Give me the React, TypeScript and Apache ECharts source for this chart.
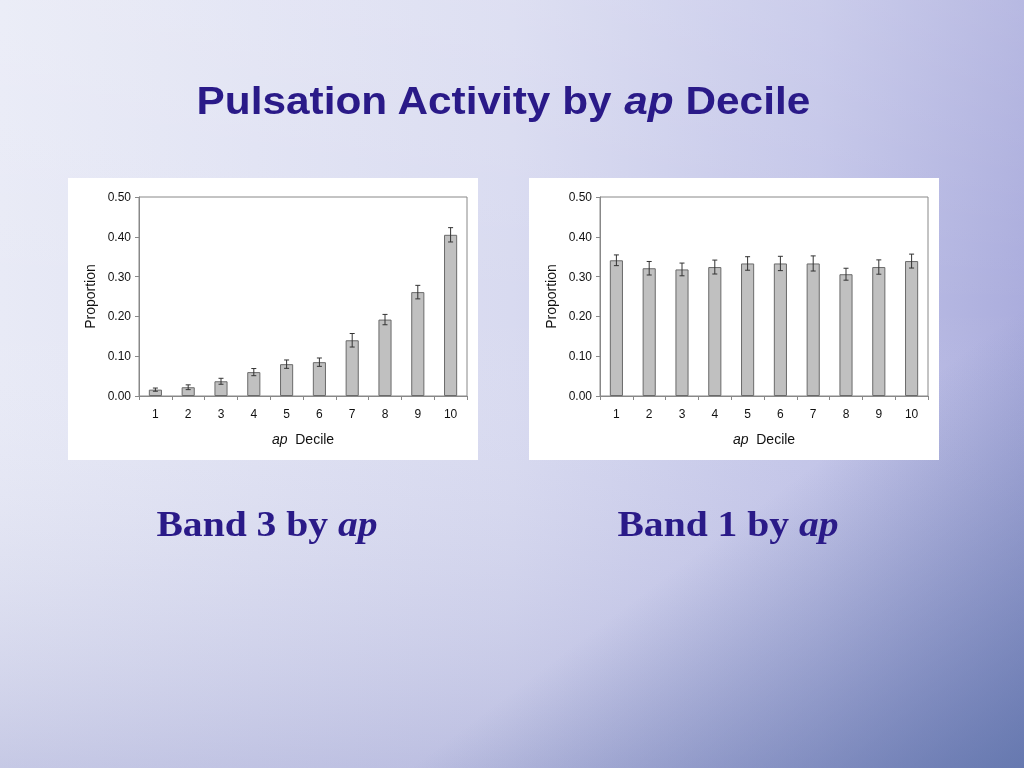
import React, { useEffect, useRef } from "react";
import * as echarts from "echarts";

const deciles = ["1", "2", "3", "4", "5", "6", "7", "8", "9", "10"];
const yTicks = [0, 0.1, 0.2, 0.3, 0.4, 0.5];

const band3Values = [0.016, 0.022, 0.037, 0.06, 0.08, 0.085, 0.14, 0.192, 0.261, 0.405];
const band3Errors = [0.004, 0.006, 0.0075, 0.009, 0.0105, 0.0105, 0.017, 0.013, 0.017, 0.018];

const band1Values = [0.341, 0.321, 0.318, 0.324, 0.333, 0.333, 0.333, 0.306, 0.324, 0.339];
const band1Errors = [0.0135, 0.017, 0.016, 0.0175, 0.017, 0.018, 0.019, 0.015, 0.018, 0.0175];

const titleText = "Pulsation Activity by {i|ap} Decile";
const subTitles = ["Band 3 by {i|ap}", "Band 1 by {i|ap}"];

const SANS = "'Liberation Sans', Arial, sans-serif";
const SERIF = "'Liberation Serif', 'Times New Roman', serif";
const INK = "#2a1a88";

function errorSeries(values: number[], errors: number[], idx: number) {
  return {
    type: "custom",
    xAxisIndex: idx,
    yAxisIndex: idx,
    z: 5,
    data: values.map((v, i) => [i, v - errors[i], v + errors[i]]),
    renderItem: (params: any, api: any) => {
      const x = api.value(0);
      const lo = api.coord([x, api.value(1)]);
      const hi = api.coord([x, api.value(2)]);
      const cap = 2.5;
      const style = { stroke: "#333333", lineWidth: 1 };
      return {
        type: "group",
        children: [
          { type: "line", shape: { x1: lo[0], y1: lo[1], x2: hi[0], y2: hi[1] }, style },
          { type: "line", shape: { x1: hi[0] - cap, y1: hi[1], x2: hi[0] + cap, y2: hi[1] }, style },
          { type: "line", shape: { x1: lo[0] - cap, y1: lo[1], x2: lo[0] + cap, y2: lo[1] }, style },
        ],
      };
    },
  };
}

function xAxis(idx: number) {
  return {
    type: "category",
    gridIndex: idx,
    data: deciles,
    boundaryGap: true,
    axisLine: { lineStyle: { color: "#888888", width: 1 } },
    axisTick: { show: true, length: 4, lineStyle: { color: "#888888" } },
    axisLabel: { color: "#111111", fontSize: 12, fontFamily: SANS, margin: 12 },
    name: "{i|ap}  Decile",
    nameLocation: "middle",
    nameGap: 36,
    nameTextStyle: {
      color: "#111111",
      fontSize: 14,
      fontFamily: SANS,
      rich: { i: { fontStyle: "italic", fontSize: 14, fontFamily: SANS, color: "#111111" } },
    },
  };
}

function yAxis(idx: number) {
  return {
    type: "value",
    gridIndex: idx,
    min: yTicks[0],
    max: yTicks[yTicks.length - 1],
    interval: 0.1,
    axisLine: { show: true, lineStyle: { color: "#888888", width: 1 } },
    axisTick: { show: true, length: 4, lineStyle: { color: "#888888" } },
    splitLine: { show: false },
    axisLabel: {
      color: "#111111",
      fontSize: 12,
      fontFamily: SANS,
      margin: 8,
      formatter: (v: number) => v.toFixed(2),
    },
    name: "Proportion",
    nameLocation: "middle",
    nameGap: 42,
    nameTextStyle: { color: "#111111", fontSize: 14, fontFamily: SANS },
  };
}

function barSeries(values: number[], idx: number) {
  return {
    type: "bar",
    xAxisIndex: idx,
    yAxisIndex: idx,
    data: values,
    barWidth: "40%",
    itemStyle: { color: "#c0c0c0", borderColor: "#6a6a6a", borderWidth: 1 },
  };
}

export default function App() {
  const ref = useRef<HTMLDivElement>(null);
  useEffect(() => {
    document.body.style.margin = "0";
    const chart = echarts.init(ref.current!, null, { renderer: "svg" });
    chart.setOption({
      animation: false,
      graphic: [
        {
          type: "rect",
          z: -10,
          shape: { x: 0, y: 0, width: 1024, height: 768 },
          style: {
            fill: new echarts.graphic.LinearGradient(0, 0, 1, 0, [
              { offset: 0, color: "#e8eaf6" },
              { offset: 0.5, color: "#d8daf0" },
              { offset: 0.8, color: "#c2c4e8" },
              { offset: 1, color: "#abaddd" },
            ]),
          },
        },
        {
          type: "rect",
          z: -9,
          shape: { x: 0, y: 0, width: 1024, height: 768 },
          style: {
            fill: new echarts.graphic.LinearGradient(0, 0, 0, 1, [
              { offset: 0, color: "rgba(255,255,255,0.15)" },
              { offset: 0.4, color: "rgba(255,255,255,0)" },
              { offset: 1, color: "rgba(110,115,185,0.28)" },
            ]),
          },
        },
        {
          type: "rect",
          z: -8,
          shape: { x: 0, y: 0, width: 1024, height: 768 },
          style: {
            fill: new echarts.graphic.LinearGradient(0, 0, 1, 1, [
              { offset: 0, color: "rgba(80,100,160,0)" },
              { offset: 0.7, color: "rgba(80,100,160,0)" },
              { offset: 1, color: "rgba(80,105,160,0.7)" },
            ]),
          },
        },
        { type: "rect", z: -5, shape: { x: 68, y: 178, width: 410, height: 282 }, style: { fill: "#ffffff" } },
        { type: "rect", z: -5, shape: { x: 529, y: 178, width: 410, height: 282 }, style: { fill: "#ffffff" } },
        {
          type: "text",
          x: 503,
          y: 101,
          scaleX: 1.115,
          style: {
            text: titleText,
            fill: INK,
            font: `bold 38px ${SANS}`,
            align: "center",
            verticalAlign: "middle",
            rich: { i: { fontStyle: "italic", fontWeight: "bold", fontSize: 38, fontFamily: SANS, fill: INK } },
          },
        },
        ...subTitles.map((t, k) => ({
          type: "text",
          x: k === 0 ? 267 : 728,
          y: 524,
          scaleX: 1.1,
          style: {
            text: t,
            fill: INK,
            font: `bold 36px ${SERIF}`,
            align: "center",
            verticalAlign: "middle",
            rich: { i: { fontStyle: "italic", fontWeight: "bold", fontSize: 36, fontFamily: SERIF, fill: INK } },
          },
        })),
      ],
      grid: [
        { left: 139, top: 197, width: 328, height: 199, show: true, borderColor: "#888888", borderWidth: 1, backgroundColor: "#ffffff" },
        { left: 600, top: 197, width: 328, height: 199, show: true, borderColor: "#888888", borderWidth: 1, backgroundColor: "#ffffff" },
      ],
      xAxis: [xAxis(0), xAxis(1)],
      yAxis: [yAxis(0), yAxis(1)],
      series: [
        barSeries(band3Values, 0),
        errorSeries(band3Values, band3Errors, 0),
        barSeries(band1Values, 1),
        errorSeries(band1Values, band1Errors, 1),
      ],
    });
    return () => chart.dispose();
  }, []);
  return <div ref={ref} style={{ position: "fixed", left: 0, top: 0, width: 1024, height: 768 }} />;
}
